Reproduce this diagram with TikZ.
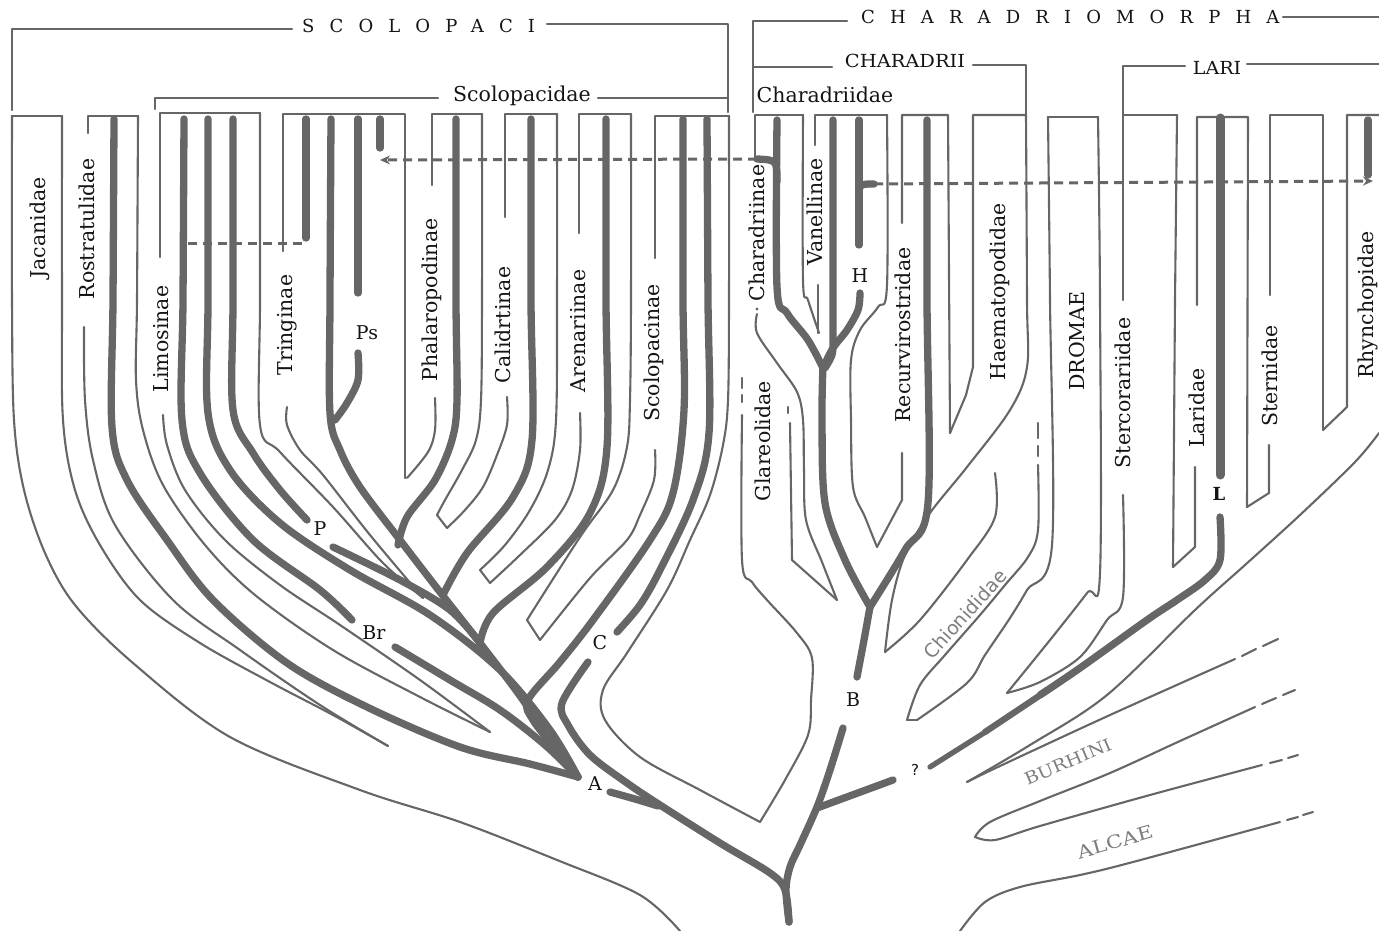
\documentclass[tikz,border=0pt]{standalone}
\usepackage{fontspec}
\setmainfont{DejaVu Serif}
\newfontfamily\sansf{DejaVu Sans}
\usepackage{graphicx}
\usetikzlibrary{arrows.meta}
\definecolor{lc}{RGB}{102,102,102}
\definecolor{tc}{RGB}{20,20,20}
\definecolor{gc}{RGB}{125,125,125}
\begin{document}
\begin{tikzpicture}[x=1pt,y=-1pt,
 outl/.style={draw=lc,line width=2.1pt,line cap=round,line join=round},
 bar/.style={draw=lc,line width=7.3pt,line cap=round,line join=round},
 dashl/.style={draw=lc,line width=3pt,dash pattern=on 9pt off 6pt},
 lab/.style={text=tc,font=\fontsize{20.5}{24}\selectfont,rotate=90,inner sep=0pt},
 hl/.style={text=tc,font=\fontsize{20.5}{24}\selectfont,inner sep=0pt},
 sl/.style={text=tc,font=\fontsize{19}{22}\selectfont,inner sep=0pt},
 ttl/.style={text=tc,font=\fontsize{18}{21}\selectfont\addfontfeature{LetterSpace=84},inner sep=0pt,anchor=west},
 gl/.style={text=gc,inner sep=0pt},
 sm/.style={smooth,tension=0.55}]
\useasboundingbox (0,0) rectangle (1379,931);
% ---------- brackets
\draw[outl] (12,110) -- (12,29) -- (292,29);
\draw[outl] (547,24) -- (728,24) -- (728,112);
\draw[outl] (155,109) -- (155,98) -- (438,98);
\draw[outl] (598,98) -- (728,98);
\draw[outl] (753,112) -- (753,21) -- (847,21);
\draw[outl] (1283,17) -- (1379,17);
\draw[outl] (753,67) -- (832,67);
\draw[outl] (973,65) -- (1026,65) -- (1026,115);
\draw[outl] (1185,66) -- (1123,66) -- (1123,300);
\draw[outl] (1247,64) -- (1379,64);
% ---------- Scolopaci tubes
\draw[outl] (62,116)--(12,116);
\draw[outl] plot[sm] coordinates {(12,116) (12,300) (14,420) (24,490) (45,553) (75,605) (133,663) (230,737) (360,790) (460,822) (557,860) (640,895) (680,931)};
\draw[outl] plot[sm] coordinates {(62,116) (62,300) (63,420) (75,490) (100,545) (140,600) (200,643) (270,682) (333,715) (388,746)};
\draw[outl] (88,133)--(88,116)--(138,116);
\draw[outl] plot[sm] coordinates {(84,327) (85,400) (93,460) (115,525) (173,600) (240,650) (320,705) (388,746)};
\draw[outl] plot[sm] coordinates {(138,116) (137,300) (136,380) (143,430) (163,485) (205,545) (255,595) (333,650) (420,697) (490,732)};
\draw[outl] plot[sm] coordinates {(163,415) (167,445) (185,490) (225,540) (280,585) (340,625) (420,680) (490,732)};
\draw[outl] (160,257)--(160,113)--(260,113);
\draw[outl] plot[sm] coordinates {(260,113) (260,300) (260,425) (280,452) (333,507) (383,563) (423,598)};
\draw[outl] (283,251)--(283,114)--(405,114)--(405,478);
\draw[outl] plot[sm] coordinates {(287,407) (287,425) (300,450) (323,475) (370,535) (423,598)};
\draw[outl] (432,185)--(432,114)--(482,114);
\draw[outl] plot[sm] coordinates {(482,114) (482,300) (481,400) (476,440) (462,470) (445,500) (437,515)};
\draw[outl] (437,515)--(447,528);
\draw[outl] plot[sm] coordinates {(435,398) (435,430) (428,452) (407,478)};
\draw[outl] (505,217)--(505,114)--(557,114);
\draw[outl] plot[sm] coordinates {(507,397) (507,425) (497,455) (483,487) (465,510) (447,528)};
\draw[outl] plot[sm] coordinates {(557,114) (557,300) (556,420) (548,470) (530,510) (505,545) (480,570)};
\draw[outl] (480,570)--(490,583);
\draw[outl] (579,233)--(579,114)--(631,114);
\draw[outl] plot[sm] coordinates {(580,413) (580,450) (572,490) (555,520) (520,555) (490,583)};
\draw[outl] plot[sm] coordinates {(631,114) (631,300) (630,400) (627,447) (613,490) (580,537) (527,620)};
\draw[outl] (527,620)--(540,640);
\draw[outl] (655,258)--(655,116)--(729,116);
\draw[outl] plot[sm] coordinates {(655,450) (654,480) (640,515) (627,540) (590,578) (540,640)};
\draw[outl] plot[sm] coordinates {(729,116) (729,300) (728,400) (723,445) (710,495) (690,540) (667,590) (627,653) (603,690) (605,720) (640,757) (700,790) (760,822)};
% ---------- Charadrii tubes
\draw[outl] (755,158)--(755,115)--(803,115);
\draw[outl] plot[sm] coordinates {(803,115) (803,280) (808,300) (819,333)};
\fill[lc] (757,309) circle (1.6pt);
\draw[outl] plot[sm] coordinates {(757,314) (757,333) (777,363) (797,392) (803,420) (804,470) (806,520) (822,562) (837,600)};
\draw[outl] (790,423)--(792,560)--(837,600);
\draw[outl] (788,407)--(788,413);
\draw[outl] (742,378)--(742,388);
\draw[outl] (742,395)--(742,402);
\draw[outl] plot[sm] coordinates {(742,415) (742,560) (752,582) (767,600) (797,633) (812,658) (811,700) (808,735) (785,780) (760,822)};
\draw[outl] (815,145)--(815,115)--(887,115);
\draw[outl] (818,285)--(818,333);
\draw[outl] plot[sm] coordinates {(887,115) (887,285) (878,307) (860,330) (851,360) (851,420) (853,487) (865,517) (877,547)};
\draw[outl] (902,223)--(902,115)--(948,115)--(950,433);
\draw[outl] (902,453)--(902,500)--(877,547);
\draw[outl] (950,433)--(966,395)--(973,367)--(973,115)--(1026,115);
\draw[outl] plot[sm] coordinates {(1026,115) (1027,300) (1027,367) (1010,410) (967,467) (930,513) (905,555) (892,600) (885,652)};
\draw[outl] plot[sm] coordinates {(995,473) (995,517) (967,560) (920,620) (885,652)};
\draw[outl] (1038,423)--(1038,438);
\draw[outl] (1038,446)--(1038,456);
\draw[outl] plot[sm] coordinates {(1038,465) (1038,530) (1028,557) (1005,585) (980,615) (945,655) (920,685) (907,720)};
\draw[outl] (907,720)--(917,720);
\draw[outl] (1048,117)--(1098,117);
\draw[outl] plot[sm] coordinates {(1048,117) (1050,300) (1052,545) (1027,590) (1010,618) (985,655) (967,683) (917,720)};
\draw[outl] plot[sm] coordinates {(1098,117) (1100,300) (1100,573) (1087,593) (1050,640) (1007,693)};
\draw[outl] (1123,115)--(1177,115);
\draw[outl] plot[sm] coordinates {(1123,495) (1123,597) (1107,620) (1080,657) (1040,682) (1007,693)};
\draw[outl] (1177,115)--(1175,300)--(1173,567);
\draw[outl] (1197,305)--(1197,117)--(1248,117)--(1247,507);
\draw[outl] (1195,467)--(1195,547)--(1173,567);
\draw[outl] (1270,295)--(1270,115)--(1323,115)--(1323,430);
\draw[outl] (1269,445)--(1269,493)--(1247,507);
\draw[outl] (1379,115)--(1347,115)--(1347,407)--(1323,430);
\draw[outl] plot[sm] coordinates {(1379,433) (1355,462) (1300,515) (1245,565) (1195,610) (1107,695) (1030,745) (967,782)};
\draw[outl] plot[sm] coordinates {(967,782) (1000,766) (1110,715) (1235,659)};
\draw[outl] (1242,656)--(1256,649);
\draw[outl] (1263,646)--(1278,639);
\draw[outl] plot[sm] coordinates {(1255,707) (1180,741) (1110,773) (1040,801) (990,822) (975,837)};
\draw[outl] (1262,704)--(1276,698);
\draw[outl] (1283,695)--(1295,690);
\draw[outl] plot[sm] coordinates {(975,837) (995,840) (1040,826) (1150,795) (1262,765)};
\draw[outl] (1270,763)--(1282,760);
\draw[outl] (1288,758)--(1298,755);
\draw[outl] plot[sm] coordinates {(960,931) (985,902) (1020,887) (1080,875) (1133,862) (1280,822)};
\draw[outl] (1287,820)--(1298,817);
\draw[outl] (1303,815)--(1313,812);
% ---------- thick lineages, Scolopaci
\draw[bar] plot[sm] coordinates {(114,119) (113,300) (112,427) (127,480) (167,540) (213,600) (287,663) (367,707) (460,747) (530,764) (578,777)};
\draw[bar] plot[sm] coordinates {(184,119) (183,300) (182,420) (200,473) (253,540) (320,590) (352,620)};
\draw[bar] plot[sm] coordinates {(395,647) (450,680) (500,710) (545,745) (578,777)};
\draw[bar] plot[sm] coordinates {(208,119) (208,300) (208,413) (230,470) (280,523) (350,570) (430,615) (500,670) (550,730) (578,777)};
\draw[bar] plot[sm] coordinates {(233,119) (233,300) (233,410) (253,453) (280,490) (307,520)};
\draw[bar] plot[sm] coordinates {(333,547) (400,580) (450,610) (480,643)};
\draw[bar] plot[sm] coordinates {(331,119) (330,300) (330,413) (340,450) (360,487) (400,540) (440,592) (480,643) (523,700) (550,743) (578,777)};
\draw[bar] plot[sm] coordinates {(358,353) (358,380) (347,403) (335,420)};
\draw[bar] (306,119)--(306,238);
\draw[bar] (358,119)--(358,293);
\draw[bar] (380,119)--(380,148);
\draw[bar] plot[sm] coordinates {(456,119) (456,300) (457,400) (452,440) (435,480) (407,517) (398,545)};
\draw[bar] plot[sm] coordinates {(531,119) (531,300) (532,440) (513,497) (467,553) (443,595)};
\draw[bar] plot[sm] coordinates {(606,119) (606,300) (607,447) (590,513) (547,567) (493,613) (480,643)};
\draw[bar] plot[sm] coordinates {(683,119) (683,300) (684,410) (673,493) (650,540) (593,620) (560,662) (528,700) (533,720) (555,748) (578,777)};
\draw[bar] plot[sm] coordinates {(707,119) (708,300) (709,433) (693,500) (660,570) (640,605) (617,632)};
\draw[bar] plot[sm] coordinates {(588,662) (562,703) (568,725) (590,755) (627,783) (660,805) (720,843) (770,873) (785,890) (789,922)};
\draw[bar] plot[sm] coordinates {(610,792) (635,799) (658,806)};
% ---------- thick lineages, Charadriomorpha
\draw[bar] plot[sm] coordinates {(777,120) (777,287) (787,313) (808,340) (823,368)};
\draw[bar] (777,182) .. controls (777,160) .. (757,159);
\draw[bar] (833,120)--(833,340) .. controls (833,355) .. (825,368);
\draw[bar] (859,120)--(859,245);
\draw[bar] (859,198) .. controls (859,184) .. (874,184);
\draw[bar] plot[sm] coordinates {(860,293) (858,310) (847,330) (833,348) (823,368)};
\draw[bar] plot[sm] coordinates {(823,365) (822,420) (825,503) (845,560) (870,607)};
\draw[bar] plot[sm] coordinates {(927,120) (927,300) (928,503) (905,550) (870,607)};
\draw[bar] plot[sm] coordinates {(870,607) (864,640) (857,677)};
\draw[bar] plot[sm] coordinates {(843,728) (830,770) (817,807) (800,845) (790,867) (786,890) (789,922)};
\draw[bar] (817,808)--(893,780);
\draw[bar] plot[sm] coordinates {(1220,517) (1220,560) (1205,580) (1177,600) (1147,620) (1080,668) (1040,695)};
\draw[bar,line width=6.3pt] (1042,694)--(985,732);
\draw[bar,line width=5.3pt] (987,731)--(930,767);
\draw[bar,line width=9pt] (1220,118)--(1220,475);
\draw[bar] (1368,120)--(1368,175);
% ---------- dashed links
\draw[dashl] (188,243)--(306,243);
\draw[dashl,-{Stealth[length=10pt,width=9pt]}] (757,159)--(380,160);
\draw[dashl,-{Stealth[length=10pt,width=9pt]}] (874,184)--(1373,181);
% ---------- titles
\node[ttl] (scoi) at (302,26) {SCOLOPACI};
\node[ttl] (chm) at (861,17) {CHARADRIOMORPHA};
\node[hl] (scd) at (522,96) {Scolopacidae};
\node[hl] (chd) at (825,95) {Charadriidae};
\node[text=tc,font=\fontsize{18}{21}\selectfont,inner sep=0pt] (chii) at (905,61) {\scalebox{1.08}[1]{CHARADRII}};
\node[text=tc,font=\fontsize{18}{21}\selectfont,inner sep=0pt] (lari) at (1217,68) {\scalebox{1.06}[1]{LARI}};
% ---------- taxon labels
\node[lab] (jac) at (40,228) {Jacanidae};
\node[lab] (ros) at (87,229) {Rostratulidae};
\node[lab] (lim) at (161,339) {Limosinae};
\node[lab] (tri) at (287,325) {Tringinae};
\node[lab] (pha) at (432,300) {Phalaropodinae};
\node[lab] (cal) at (503,325) {Calidrtinae};
\node[lab] (are) at (578,331) {Arenariinae};
\node[lab] (sco) at (654,353) {Scolopacinae};
\node[lab] (chi) at (757,233) {Charadriinae};
\node[lab] (van) at (815,212) {Vanellinae};
\node[lab] (rec) at (903,335) {Recurvirostridae};
\node[lab] (hae) at (1000,292) {Haematopodidae};
\node[lab] (dro) at (1077,341) {DROMAE};
\node[lab] (ste) at (1123,393) {Stercorariidae};
\node[lab] (lar) at (1197,408) {Laridae};
\node[lab] (stn) at (1270,376) {Sternidae};
\node[lab] (rhy) at (1368,305) {Rhynchopidae};
\node[lab] (gla) at (763,441) {Glareolidae};
% ---------- node letters
\node[sl] (ps) at (367,333) {Ps};
\node[sl] (p) at (320,529) {P};
\node[sl] (br) at (374,633) {Br};
\node[sl] (c) at (600,643) {C};
\node[sl] (a) at (595,784) {A};
\node[sl] (h) at (860,276) {H};
\node[sl] (b) at (853,700) {B};
\node[sl,font=\fontsize{18}{21}\selectfont\bfseries] (l) at (1219,494) {L};
\node[text=tc,inner sep=0pt,font=\sansf\fontsize{15}{17}\selectfont] (q) at (915,770) {?};
% ---------- grey group labels
\node[gl,font=\sansf\fontsize{19}{21}\selectfont,rotate=48] (chn) at (965,614) {Chionididae};
\node[gl,font=\fontsize{17}{20}\selectfont,rotate=23] (bur) at (1068,762) {\scalebox{1.12}[1]{BURHINI}};
\node[gl,font=\fontsize{18}{20}\selectfont,rotate=16] (alc) at (1115,842) {\scalebox{1.2}[1]{ALCAE}};
\end{tikzpicture}
\end{document}
